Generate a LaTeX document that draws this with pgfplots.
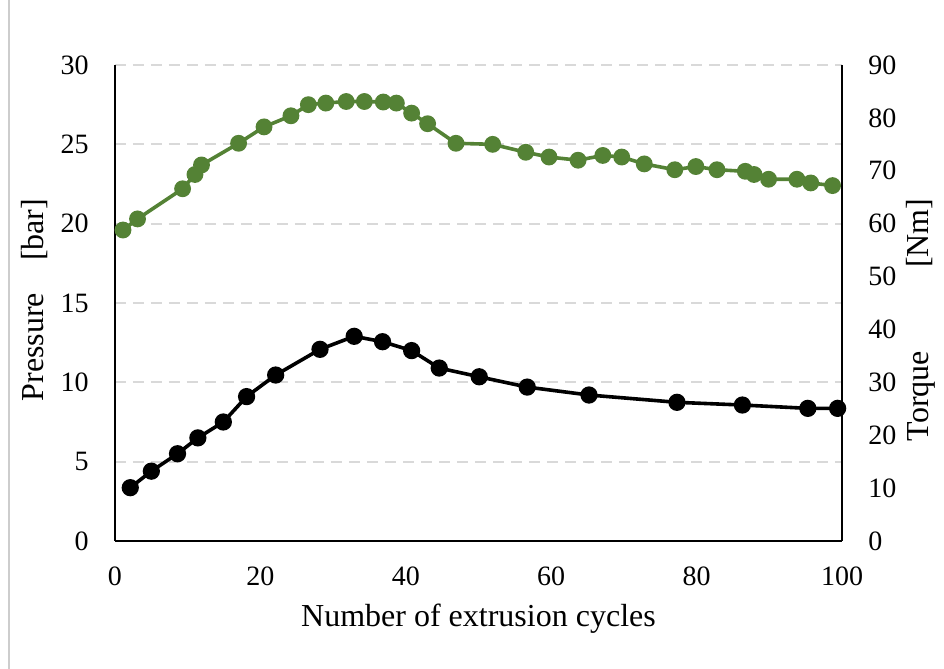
\documentclass[border=0pt]{standalone}
\usepackage{fontspec}
\setmainfont{Liberation Serif}
\usepackage{pgfplots}
\pgfplotsset{compat=1.18}

\definecolor{grn}{RGB}{84,130,53}
\definecolor{gridgray}{RGB}{217,217,217}
\definecolor{framegray}{RGB}{205,205,205}

\pgfplotsset{
  base/.style={
    scale only axis, width=363.5pt, height=238pt,
    xmin=0, xmax=100,
    at={(0,0)}, anchor=south west,
    clip=false,
    major tick length=0pt,
    tick label style={font=\fontsize{14}{15}\selectfont},
    /pgf/number format/assume math mode=true,
    axis line style={line width=1.3pt, -},
  }
}

\begin{document}
\begin{tikzpicture}
\useasboundingbox (-57.5pt,-64pt) rectangle ++(472pt,334.5pt);
\draw[framegray, line width=0.7pt] (-53pt,-64pt) -- ++(0,334.5pt);

% pressure (left)
\begin{axis}[base,
    ymin=0, ymax=30, ytick={0,5,...,30},
    xtick={0,20,...,100},
    axis x line*=bottom, axis y line*=left,
    ymajorgrids,
    grid style={gridgray, line width=1.1pt, dash pattern=on 5.5pt off 3.5pt},
    yticklabel style={inner sep=0pt, xshift=-13pt},
    xticklabel style={inner sep=0pt, yshift=-12.5pt},
]
\addplot[black, line width=1.8pt, mark=*, mark size=3.4pt,
         mark options={solid, fill=black}] coordinates {
  (2.1,3.36) (5.0,4.4) (8.6,5.5) (11.4,6.5) (14.9,7.5) (18.1,9.1)
  (22.1,10.46) (28.2,12.08) (32.9,12.9) (36.8,12.56) (40.8,12.0)
  (44.6,10.9) (50.1,10.35) (56.7,9.7) (65.2,9.2) (77.3,8.74)
  (86.3,8.57) (95.3,8.36) (99.4,8.36)
};
\end{axis}

% torque (right)
\begin{axis}[base,
    ymin=0, ymax=90, ytick={0,10,...,90},
    axis x line=none, axis y line*=right,
    yticklabel style={inner sep=0pt, xshift=13pt},
]
\addplot[grn, line width=1.8pt, mark=*, mark size=3.3pt,
         mark options={solid, fill=grn}] coordinates {
  (1.1,58.8) (3.1,60.9) (9.3,66.6) (11.0,69.3) (11.9,71.1) (17.0,75.2)
  (20.5,78.3) (24.2,80.4) (26.6,82.5) (29.0,82.8) (31.8,83.1) (34.3,83.1)
  (36.9,83.0) (38.7,82.8) (40.8,80.9) (43.0,78.9) (46.9,75.2) (51.95,75.0)
  (56.5,73.5) (59.7,72.6) (63.7,72.0) (67.1,72.9) (69.7,72.6) (72.8,71.3)
  (77.0,70.2) (79.9,70.8) (82.8,70.2) (86.7,69.9) (87.9,69.3) (89.9,68.4)
  (93.8,68.4) (95.7,67.7) (98.7,67.2)
};
\end{axis}

\node[anchor=base, font=\fontsize{16}{18}\selectfont] at (181.75pt,-43pt) {Number of extrusion cycles};
\node[rotate=90, font=\fontsize{16}{18}\selectfont] at (-40pt,120.5pt) {Pressure\hspace{0.75em} [bar]};
\node[rotate=90, font=\fontsize{16}{18}\selectfont] at (403pt,110.5pt) {Torque\hspace{2.35em} [Nm]};
\end{tikzpicture}
\end{document}
